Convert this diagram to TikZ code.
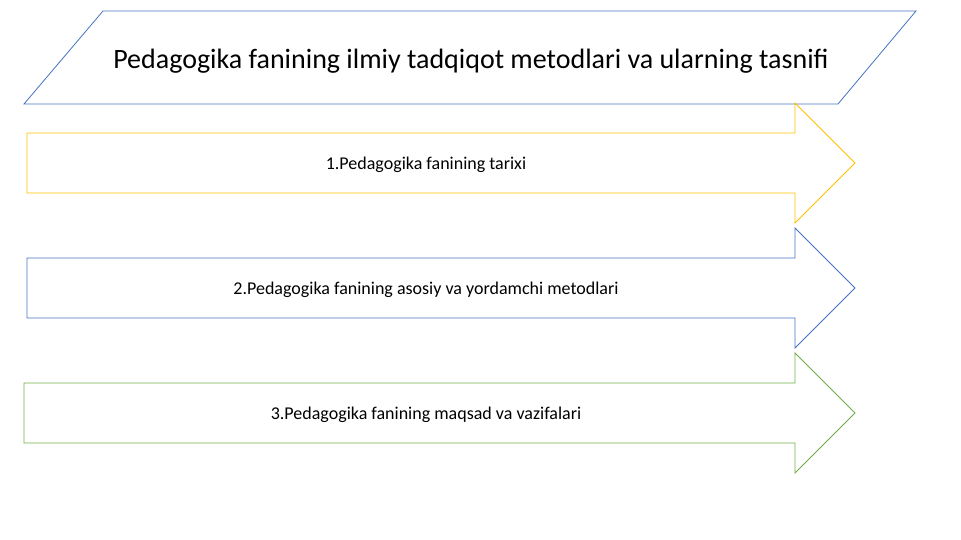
\documentclass[tikz,border=0pt]{standalone}
\usepackage{fontspec}
\setmainfont{Carlito}
\definecolor{gold}{HTML}{FFC000}
\definecolor{steel}{HTML}{4472C4}
\definecolor{leaf}{HTML}{70AD47}
\begin{document}
\begin{tikzpicture}[x=1pt, y=-1pt, line width=0.8pt,
    titlebox/.style={draw=steel},
    arrowbox/.style={draw=#1}]
  \useasboundingbox (0,0) rectangle (961,540);
  %% title
  \draw[titlebox] (103,11) -- (916,11) -- (838,104) -- (24,104) -- cycle;
  \node (title) at (471,61) {\fontsize{28}{32}\selectfont Pedagogika fanining ilmiy tadqiqot metodlari va ularning tasnifi};

  %% arrows
  \foreach \y/\c/\l/\n/\t in {133/gold/27/one/1.Pedagogika fanining tarixi,
                            258/steel/27/two/2.Pedagogika fanining asosiy va yordamchi metodlari,
                            383/leaf/24/three/3.Pedagogika fanining maqsad va vazifalari} {
    \draw[arrowbox=\c] (\l,\y) -- (795,\y) -- (795,\y-30) -- (855,\y+30)
         -- (795,\y+90) -- (795,\y+60) -- (\l,\y+60) -- cycle;
    \node (\n) at (426,\y+32) {\fontsize{18}{21}\selectfont \t};
  }
\end{tikzpicture}
\end{document}
